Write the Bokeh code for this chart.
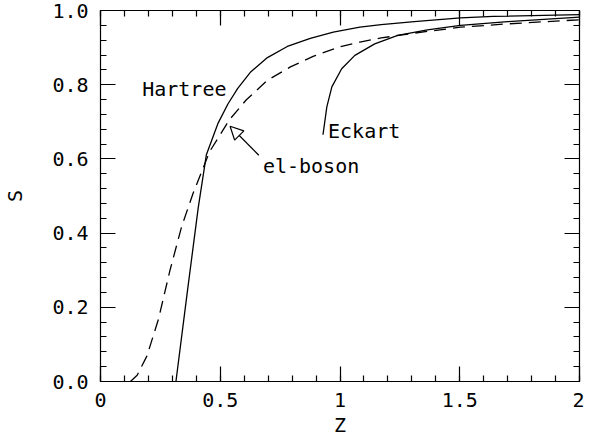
from bokeh.plotting import figure
from bokeh.models import (Range1d, LinearAxis, SingleIntervalTicker, CustomJSTickFormatter,
                          PrintfTickFormatter, Label, Arrow, NormalHead)
from bokeh.embed import file_html
from bokeh.resources import INLINE

# ---- data ----
hartree_z = [0.315, 0.362, 0.408, 0.442, 0.490, 0.532, 0.573, 0.628, 0.697, 0.780, 0.876,
             0.972, 1.083, 1.172, 1.310, 1.503, 1.640, 2.000]
hartree_s = [0.000, 0.239, 0.468, 0.611, 0.695, 0.748, 0.790, 0.835, 0.873, 0.903, 0.925,
             0.942, 0.955, 0.962, 0.970, 0.980, 0.984, 0.989]

boson_z = [0.125, 0.153, 0.194, 0.242, 0.291, 0.339, 0.387, 0.456, 0.539, 0.607, 0.697,
           0.793, 0.890, 1.000, 1.083, 1.172, 1.310, 1.503, 1.700, 2.000]
boson_s = [0.000, 0.017, 0.069, 0.168, 0.302, 0.418, 0.508, 0.620, 0.706, 0.758, 0.812,
           0.848, 0.877, 0.902, 0.915, 0.926, 0.939, 0.955, 0.964, 0.975]

eckart_z = [0.929, 0.945, 0.966, 1.007, 1.062, 1.145, 1.241, 1.365, 1.503, 1.700, 2.000]
eckart_s = [0.665, 0.740, 0.794, 0.843, 0.879, 0.910, 0.933, 0.948, 0.960, 0.970, 0.982]

label_texts = ["Hartree", "el-boson", "Eckart"]
label_z = [0.174, 0.678, 0.950]
label_s = [0.788, 0.581, 0.675]

arrow_start = (0.661, 0.610)
arrow_end = (0.541, 0.688)

x_title = "Z"
y_title = "S"
x_ticks_interval = 0.5
y_ticks_interval = 0.2
FONT = "DejaVu Sans Mono"
FS = "20px"

p = figure(width=584, height=439, output_backend="svg", toolbar_location=None,
           x_range=Range1d(0, 2), y_range=Range1d(0, 1),
           min_border_left=95, min_border_right=5, min_border_top=10, min_border_bottom=58,
           x_axis_location=None, y_axis_location=None)
p.grid.visible = False
p.outline_line_color = None
p.background_fill_color = "white"
p.border_fill_color = "white"


def style_axis(ax, show_labels):
    ax.major_tick_in = 15
    ax.major_tick_out = 0
    ax.minor_tick_in = 6
    ax.minor_tick_out = 0
    ax.axis_line_color = "black"
    ax.axis_line_width = 1.2
    ax.major_tick_line_width = 1.2
    ax.minor_tick_line_width = 1.2
    ax.major_tick_line_color = "black"
    ax.minor_tick_line_color = "black"
    ax.major_label_text_font = FONT
    ax.major_label_text_font_size = FS
    ax.major_label_text_color = "black"
    ax.axis_label_text_font = FONT
    ax.axis_label_text_font_size = FS
    ax.axis_label_text_font_style = "normal"
    ax.axis_label_text_color = "black"
    if not show_labels:
        ax.formatter = CustomJSTickFormatter(code="return ''")
        ax.major_label_standoff = 0
        ax.major_label_text_font_size = "1px"


xfmt = CustomJSTickFormatter(code="return String(Math.round(tick*10)/10)")

bottom = LinearAxis(ticker=SingleIntervalTicker(interval=x_ticks_interval, num_minor_ticks=5),
                    formatter=xfmt, axis_label=x_title)
style_axis(bottom, True)
bottom.major_label_standoff = 11
bottom.axis_label_standoff = 3
p.add_layout(bottom, "below")

left = LinearAxis(ticker=SingleIntervalTicker(interval=y_ticks_interval, num_minor_ticks=5),
                  formatter=PrintfTickFormatter(format="%.1f"), axis_label=y_title)
style_axis(left, True)
left.major_label_standoff = 12
left.axis_label_standoff = 22
p.add_layout(left, "left")

top = LinearAxis(ticker=SingleIntervalTicker(interval=x_ticks_interval, num_minor_ticks=5))
style_axis(top, False)
p.add_layout(top, "above")

right = LinearAxis(ticker=SingleIntervalTicker(interval=y_ticks_interval, num_minor_ticks=5))
style_axis(right, False)
p.add_layout(right, "right")

p.line(hartree_z, hartree_s, line_color="black", line_width=1.3)
p.line(eckart_z, eckart_s, line_color="black", line_width=1.3)
p.line(boson_z, boson_s, line_color="black", line_width=1.3, line_dash="12 7")

for t, xx, yy in zip(label_texts, label_z, label_s):
    p.add_layout(Label(x=xx, y=yy, text=t, text_font=FONT, text_font_size=FS,
                       text_color="black", text_align="left", text_baseline="alphabetic"))

p.add_layout(Arrow(x_start=arrow_start[0], y_start=arrow_start[1],
                   x_end=arrow_end[0], y_end=arrow_end[1], line_width=1.3, line_color="black",
                   end=NormalHead(size=13, fill_color="white", line_color="black", line_width=1.2)))

open("out.html", "w").write(file_html(p, INLINE))
